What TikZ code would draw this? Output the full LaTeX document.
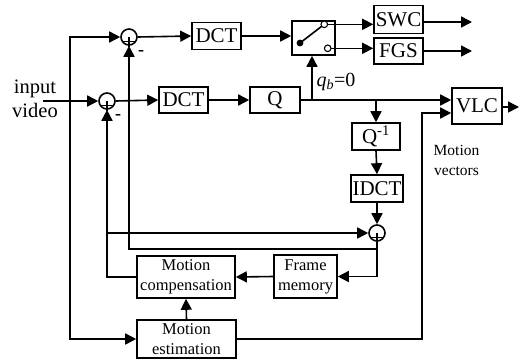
\documentclass[tikz,border=0pt]{standalone}
\usepackage{fontspec}
\setmainfont{Liberation Serif}
\usetikzlibrary{
  calc, % Koordinatenrechnung
  arrows.meta % Pfeilspitzen
}

\begin{document}
\begin{tikzpicture}[
    x=1pt, y=-1pt, % Pixelraster, y nach unten
    line width=1.6pt, % Standard-Strichstaerke
    >={Triangle[length=11pt, width=11pt]}, % Pfeilspitze
    pfeil/.style={->}, % Signalpfeile
    block/.style={draw, inner sep=1pt, font=\fontsize{21}{24}\selectfont},
    mblock/.style={draw, inner sep=1pt, align=center, font=\fontsize{16.5}{20}\selectfont},
    summe/.style={circle, draw, minimum size=16pt, inner sep=0pt},
    minus/.style={inner sep=0pt, font=\fontsize{18}{18}\selectfont\bfseries},
  ]
  \useasboundingbox (0,0) rectangle (519,359);
  % Summierer
  \node[summe] (sumA) at (129,37) {};
  \node[summe] (sumB) at (107,101) {};
  \node[summe] (sumC) at (377,233) {};
  \foreach \s in {sumA,sumB,sumC}
    \draw[line width=1.1pt] ($(\s)+(-6,4.5)$) -- ($(\s)+(6,4.5)$)
      (\s.center) -- ($(\s)+(0,9.5)$);
  \node[minus] (mA) at ($(sumA)+(12,16)$) {-};
  \node[minus] (mB) at ($(sumB)+(11,16)$) {-};
  % Bloecke
  \node[block, minimum width=49pt, minimum height=27pt] (dctA) at (216.5,36) {DCT};
  \node[block, minimum width=49pt, minimum height=26pt] (dctB) at (183.5,100) {DCT};
  \node[block, minimum width=50pt, minimum height=26pt] (Q) at (275,100) {Q};
  \node[draw, minimum width=43pt, minimum height=34pt] (sw) at (313.5,38) {};
  \node[block, minimum width=49pt, minimum height=28pt] (SWC) at (398.5,19.5) {SWC};
  \node[block, minimum width=49pt, minimum height=26pt] (FGS) at (398.5,51) {FGS};
  \node[block, minimum width=50pt, minimum height=36pt] (VLC) at (477,106) {VLC};
  \node[block, minimum width=48pt, minimum height=27pt] (Qinv) at (376,136.5) {Q\textsuperscript{-1}};
  \node[block, minimum width=52pt, minimum height=27pt] (IDCT) at (377,188.5) {IDCT};
  \node[mblock, minimum width=98pt, minimum height=42pt] (MC) at (186,277) {Motion\\compensation};
  \node[mblock, minimum width=63pt, minimum height=43pt] (FM) at (305.5,276.5) {Frame\\memory};
  \node[mblock, minimum width=99pt, minimum height=38pt] (ME) at (186.5,339) {Motion\\estimation};
  % Beschriftungen
  \node[align=center, font=\fontsize{20.5}{24}\selectfont] (inp) at (35,99) {input\\video};
  \node[font=\fontsize{20}{24}\selectfont] (qb) at (336,82) {\textit{q}\textsubscript{\textit{b}}=0};
  \node[align=center, font=\fontsize{15.5}{20}\selectfont] (mv) at (456.5,160) {Motion\\vectors};
  % Hilfspunkte
  \coordinate (in) at (43,101);
  \coordinate (L) at (70,101);
  \coordinate (qS) at (312,100);
  \coordinate (qI) at (376,100);
  \coordinate (vec) at (422,113);
  \coordinate (rc) at (377,249);
  \coordinate (mc) at (107,233);
  \coordinate (swA) at (324.3,24.3);
  \coordinate (swB) at (327.7,48.3);
  \coordinate (swP) at (300,43);
  \coordinate (endA) at (472,22);
  \coordinate (endB) at (472,51);
  \coordinate (endC) at (519,107);
  % Vorwaertszweig
  \draw[pfeil] (in) -- (sumB.west);
  \draw[pfeil] (L) |- (sumA.west);
  \draw[pfeil] (L) |- (ME.west);
  \draw[pfeil] (sumA.east) -- (dctA.west);
  \draw[pfeil] (dctA.east) -- (sw.west |- dctA.east);
  \draw[pfeil] (sumB.east) -- (dctB.west);
  \draw[pfeil] (dctB.east) -- (Q.west);
  \draw[pfeil] (Q.east) -- (Q.east -| VLC.west);
  \draw[pfeil] (qS) -- (qS |- sw.south);
  \draw[pfeil] (qI) -- (Qinv.north);
  \draw[pfeil] (Qinv.south) -- (IDCT.north);
  \draw[pfeil] (IDCT.south) -- (sumC.north);
  % Schalter
  \draw[pfeil] (swA) -- (swA -| SWC.west);
  \draw[pfeil] (swB) -- (swB -| FGS.west);
  \draw (swP) -- (swA);
  \fill (swP) circle (3.4pt);
  \draw[line width=1.1pt, fill=white] (swA) circle (3.3pt);
  \draw[line width=1.1pt, fill=white] (swB) circle (3.3pt);
  % Ausgaenge
  \draw[pfeil] (SWC.east |- endA) -- (endA);
  \draw[pfeil] (FGS.east) -- (endB);
  \draw[pfeil] (VLC.east |- endC) -- (endC);
  % Rueckfuehrung
  \draw[pfeil] (sumC.south) |- (FM.east);
  \draw[pfeil] (rc) -| (sumA.south);
  \draw[pfeil] (FM.west) -- (MC.east);
  \draw[pfeil] (MC.west) -| (sumB.south);
  \draw[pfeil] (mc) -- (sumC.west);
  \draw[pfeil] (ME.north) -- (MC.south);
  \draw[pfeil] (ME.east) -| (vec) -- (vec -| VLC.west);
\end{tikzpicture}
\end{document}
